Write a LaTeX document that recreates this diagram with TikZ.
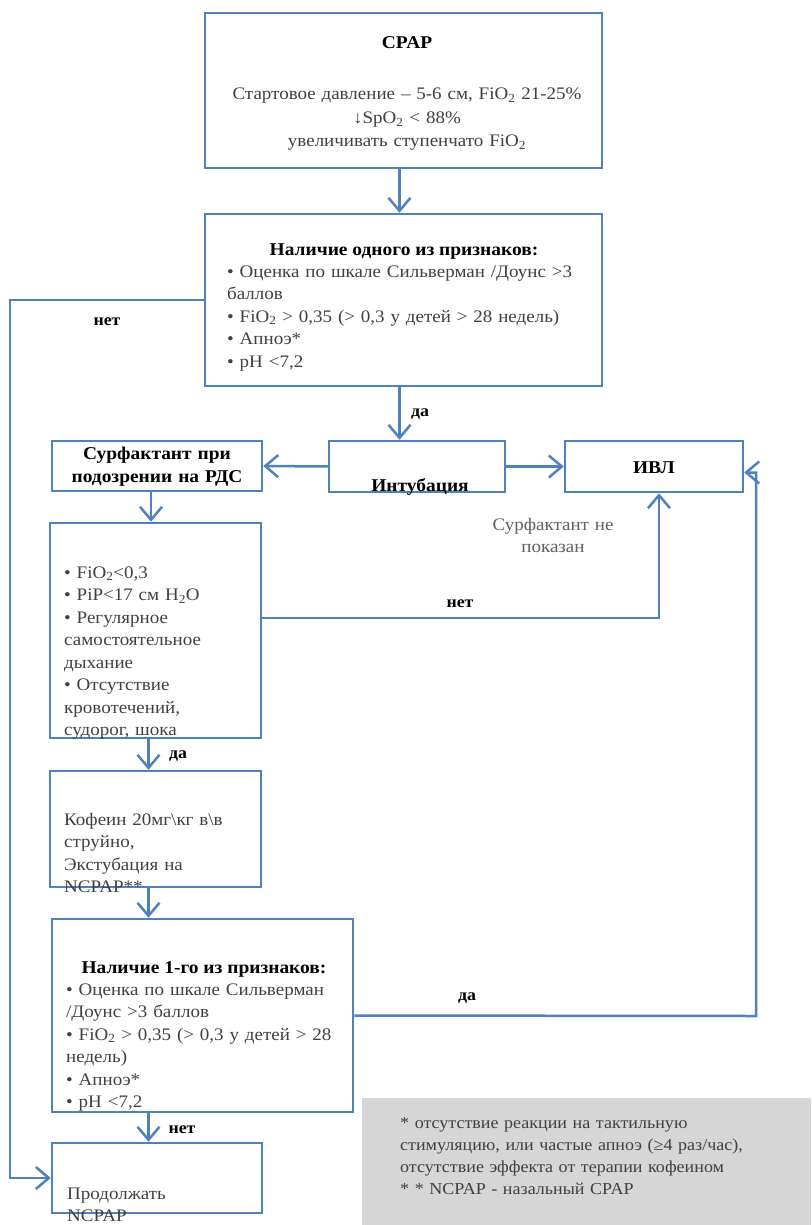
\documentclass[tikz,border=0pt]{standalone}
\usepackage{fontspec}
\setmainfont{Liberation Serif}[FakeStretch=1.08]
\usetikzlibrary{arrows.meta}
\definecolor{boxblue}{RGB}{79,129,189}
\definecolor{txtgray}{RGB}{64,64,64}
\definecolor{paletxt}{RGB}{96,96,96}
\definecolor{notegray}{RGB}{214,214,214}

\begin{document}
\begin{tikzpicture}[
                x=1pt, y=-1pt,
                box/.style = {
                    draw=boxblue,
                    line width = 2.5pt,
                    inner sep = 0pt,
                    minimum width = #1
                },
                box/.default = 200pt,
                txt/.style = {
                    inner sep = 0pt,
                    text = txtgray,
                    font = \fontsize{17.6}{22.5}\selectfont,
                    text width = #1,
                    align = left,
                    anchor = base west
                },
                txt/.default = 200pt,
                ttl/.style = {
                    inner sep = 0pt,
                    text = black,
                    font = \fontsize{18}{23}\selectfont\bfseries,
                    anchor = base
                },
                lbl/.style = {ttl, font = \fontsize{16.5}{20}\selectfont\bfseries},
                arr/.style = {
                    draw=boxblue,
                    line width = 2.5pt,
                    -{Straight Barb[length=13pt, width=22pt]}
                }
            ]
            \useasboundingbox (0,0) rectangle (811,1225);
            % boxes
            \node[box=397pt, minimum height=155pt] (cpap) at (403.5,90.5) {};
            \node[box=397pt, minimum height=172pt] (signs) at (403.5,300) {};
            \node[box=210pt, minimum height=50pt] (surf) at (157,466) {};
            \node[box=176pt, minimum height=51pt] (intub) at (417,466.5) {};
            \node[box=178pt, minimum height=51pt] (ivl) at (654,466.5) {};
            \node[box=211pt, minimum height=215pt] (crit) at (155.5,630.5) {};
            \node[box=211pt, minimum height=116pt] (caff) at (155.5,829) {};
            \node[box=301pt, minimum height=193pt] (signs2) at (202.5,1015.5) {};
            \node[box=210pt, minimum height=70pt] (cont) at (157,1178) {};
            \node[fill=notegray, inner sep=0pt, minimum width=449pt, minimum height=127pt,
                  anchor=north west] (note) at (362,1098) {};
            %
            % texts
            \node[ttl] (cpapT) at (407,49) {CPAP};
            \node[txt=395pt, align=center, anchor=base, font=\fontsize{17.6}{23.5}\selectfont] (cpapB) at (407,100)
                {Стартовое давление – 5-6 см, FiO\textsubscript{2} 21-25\%\\
                 ↓SpO\textsubscript{2} < 88\%\\
                 увеличивать ступенчато FiO\textsubscript{2}};
            %
            \node[ttl] (signsT) at (404,255) {Наличие одного из признаков:};
            \node[txt=372pt] (signsB) at (227,277)
                {• Оценка по шкале Сильверман /Доунс >3\\
                 баллов\\
                 • FiO\textsubscript{2} > 0,35 (> 0,3 у детей > 28 недель)\\
                 • Апноэ*\\
                 • pH <7,2};
            %
            \node[ttl, text width=208pt, align=center] (surfT) at (157,459)
                {Сурфактант при\\подозрении на РДС};
            \node[ttl] (intubT) at (420,491) {Интубация};
            \node[ttl] (ivlT) at (654,473) {ИВЛ};
            \node[txt=170pt, align=center, anchor=base, text=paletxt] (noSurf) at (553,530)
                {Сурфактант не\\показан};
            %
            \node[txt=195pt] (critB) at (64,578)
                {• FiO\textsubscript{2}<0,3\\
                 • PiP<17 см H\textsubscript{2}O\\
                 • Регулярное\\
                 самостоятельное\\
                 дыхание\\
                 • Отсутствие\\
                 кровотечений,\\
                 судорог, шока};
            \node[txt=195pt] (caffB) at (64,825)
                {Кофеин 20мг\textbackslash кг в\textbackslash в\\
                 струйно,\\
                 Экстубация на\\
                 NCPAP**};
            %
            \node[ttl] (signs2T) at (204,973) {Наличие 1-го из признаков:};
            \node[txt=285pt] (signs2B) at (66,995)
                {• Оценка по шкале Сильверман\\
                 /Доунс >3 баллов\\
                 • FiO\textsubscript{2} > 0,35 (> 0,3 у детей > 28\\
                 недель)\\
                 • Апноэ*\\
                 • pH <7,2};
            \node[txt=190pt] (contB) at (67,1199) {Продолжать\\NCPAP};
            %
            \node[txt=405pt, font=\fontsize{16.7}{22.3}\selectfont] (noteB) at (400,1128)
                {* отсутствие реакции на тактильную\\
                 стимуляцию, или частые апноэ (≥4 раз/час),\\
                 отсутствие эффекта от терапии кофеином\\{}%
                 * * NCPAP - назальный CPAP};
            %
            % labels
            \node[lbl] (no1) at (107,325) {нет};
            \node[lbl] (yes1) at (420,416) {да};
            \node[lbl] (no2) at (460,607) {нет};
            \node[lbl] (yes2) at (178,758) {да};
            \node[lbl] (yes3) at (467,1000) {да};
            \node[lbl] (no3) at (182,1133) {нет};
            %
            % connectors
            \coordinate (lft) at (10,300);
            \coordinate (rgt) at (756,1016);
            \draw[arr] ([xshift=-4pt]cpap.south) -- ([xshift=-4pt]signs.north);
            \draw[arr] ([xshift=-4pt]signs.south) -- ([xshift=-4pt]signs.south |- intub.north);
            \draw[arr] (intub.west) -- (surf.east);
            \draw[arr] (intub.east) -- (ivl.west);
            \draw[arr] ([xshift=-6pt]surf.south) -- ([xshift=-6pt]surf.south |- crit.north);
            \draw[arr] ([yshift=12.5pt]crit.east) -| ([xshift=5pt]ivl.south);
            \draw[arr] ([xshift=-7pt]crit.south) -- ([xshift=-7pt]crit.south |- caff.north);
            \draw[arr] ([xshift=-7pt]caff.south) -- ([xshift=-7pt]caff.south |- signs2.north);
            \draw[arr] ([xshift=-54pt]signs2.south) -- ([xshift=-54pt]signs2.south |- cont.north);
            \draw[arr] (signs2.east) -- (rgt) |- ([yshift=-6pt]ivl.east);
            \draw[arr] (signs.west) -- (lft) |- (cont.west);
            %
        \end{tikzpicture}
\end{document}
